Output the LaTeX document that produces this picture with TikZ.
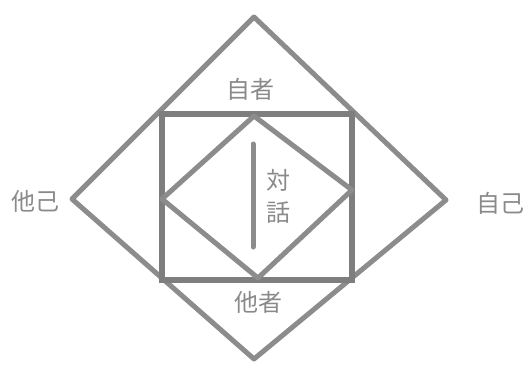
\documentclass[tikz,border=0pt]{standalone}
\usepackage{fontspec}
\newfontfamily\cjk{Noto Sans CJK JP}
\definecolor{ln}{HTML}{8C8C8C}
\definecolor{rl}{HTML}{7E7E7E}
\definecolor{tx}{HTML}{8A8A8A}
\begin{document}
\begin{tikzpicture}[x=1pt,y=-1pt,
  lineS/.style={draw=ln,line width=5pt,line join=round,line cap=round},
  rectS/.style={draw=rl,line width=5.5pt,line join=miter},
  lab/.style={text=tx,font=\cjk\fontsize{24}{26}\selectfont,inner sep=0pt}]
\useasboundingbox[fill=white] (0,0) rectangle (530,365);
% outer diamond
\coordinate (OT) at (254,17);
\coordinate (OR) at (446,200);
\coordinate (OB) at (254,359);
\coordinate (OL) at (72,199);
\draw[lineS] (OT) -- (OR) -- (OB) -- (OL) -- cycle;
% rectangle
\coordinate (RA) at (162,114);
\coordinate (RB) at (352,280);
\draw[rectS] (RA) rectangle (RB);
% inner diamond
\coordinate (IT) at (254,116);
\coordinate (IR) at (352,190);
\coordinate (IB) at (258,278);
\coordinate (IL) at (162,199);
\draw[lineS] (IT) -- (IR) -- (IB) -- (IL) -- cycle;
% vertical bar
\coordinate (VT) at (253,144);
\coordinate (VB) at (253,247);
\draw[lineS] (VT) -- (VB);
% labels
\node[lab] (jisha) at (250,89) {自者};
\node[lab] (tasha) at (258,302) {他者};
\node[lab] (tako) at (36,201) {他己};
\node[lab] (jiko) at (500,203) {自己};
\node[lab] (tai) at (278,180) {対};
\node[lab] (wa) at (278,213) {話};
\end{tikzpicture}
\end{document}
